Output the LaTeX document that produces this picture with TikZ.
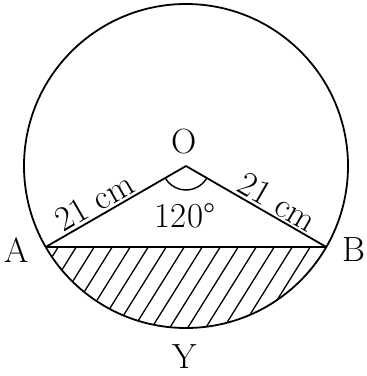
\documentclass[tikz,border=0pt]{standalone}
\usepackage{fontspec}
\begin{document}
\begin{tikzpicture}[x=1pt,y=1pt,line width=1.8pt,
  lab/.style={font=\fontsize{35}{40}\selectfont, inner sep=0pt},
  hatch/.style={line width=1.3pt}]
\useasboundingbox (0,0) rectangle (367,376);
\coordinate (O) at (186,210);
\coordinate (A) at (45.7,129);
\coordinate (B) at (326.3,129);
\node[circle, draw, minimum size=324pt, inner sep=0pt, line width=1.8pt] (circ) at (O) {};
% hatching of the minor segment
\begin{scope}
  \clip (A) -- (B) arc[start angle=-30, end angle=-150, radius=162] -- cycle;
  \foreach \k in {0,...,22} {
    \draw[hatch] (8+18*\k,135) -- ++(238:240);
  }
\end{scope}
\draw (A) -- (B);
\draw (A) -- node[lab, pos=0.4, above=2pt, sloped] (lA) {21 cm} (O);
\draw (O) -- node[lab, pos=0.6, above=2pt, sloped] (lB) {21 cm} (B);
\draw[line width=1.4pt] (O) ++(-150:24) arc[start angle=-150, end angle=-30, radius=24];
\node[lab] (nO) at (184,234) {O};
\node[lab] (nA) at (17,126) {A};
\node[lab] (nB) at (354,126) {B};
\node[lab] (nY) at (185,19) {Y};
\node[lab] (ang) at (185,160) {120°};
\end{tikzpicture}
\end{document}
